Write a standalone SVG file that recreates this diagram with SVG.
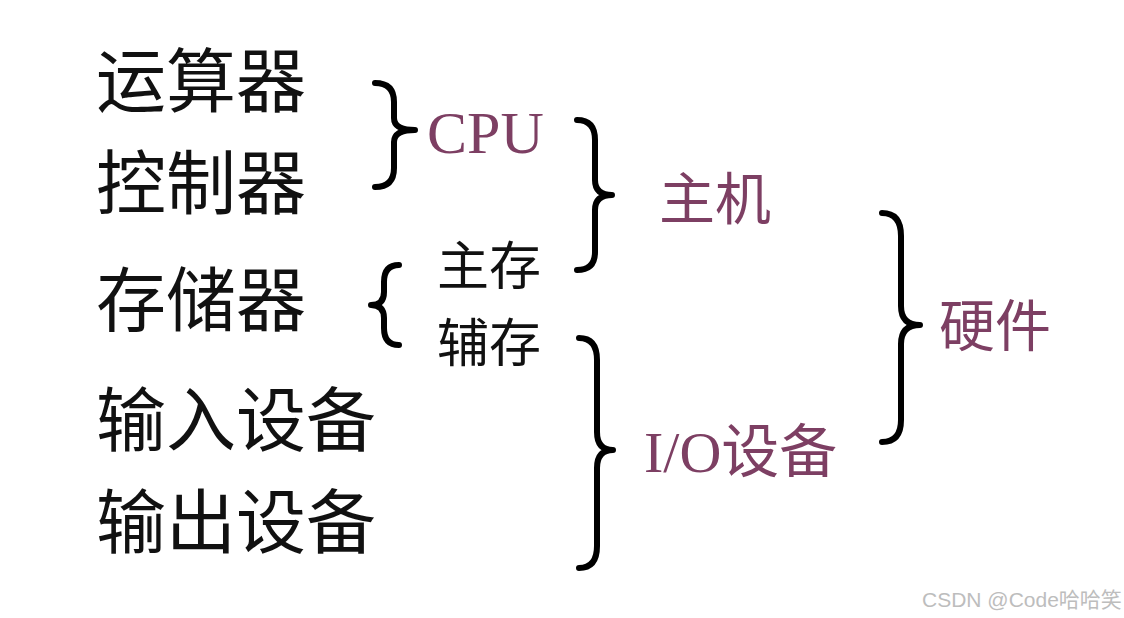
<svg xmlns="http://www.w3.org/2000/svg" width="1124" height="618" viewBox="0 0 1124 618">
<style>
.k{font-family:"Noto Sans CJK SC","Noto Sans",sans-serif;fill:#111}
.big{font-size:70px}
.mid{font-size:56px}
.sm{font-size:52px}
.m{fill:#7d3f63}
.lat{font-family:"Liberation Serif","Noto Sans CJK SC",serif;fill:#7d3f63}
.br{fill:none;stroke:#000;stroke-width:6;stroke-linecap:round;stroke-linejoin:round}
.wm{font-family:"Liberation Sans","Noto Sans CJK SC",sans-serif;font-size:21px;fill:#bdbdbd}
</style>
<rect width="1124" height="618" fill="#fff"/>
<g id="n-alu"><text class="k big" x="96" y="107">运算器</text></g>
<g id="n-ctrl"><text class="k big" x="96" y="209">控制器</text></g>
<g id="n-mem"><text class="k big" x="96" y="326">存储器</text></g>
<g id="n-in"><text class="k big" x="96" y="446">输入设备</text></g>
<g id="n-out"><text class="k big" x="96" y="548">输出设备</text></g>
<g id="n-cpu"><text class="lat" font-size="60" x="427" y="153">CPU</text></g>
<g id="n-main"><text class="k mid m" x="659" y="219">主机</text></g>
<g id="n-zc"><text class="k sm" x="437" y="285">主存</text></g>
<g id="n-fc"><text class="k sm" x="437" y="362">辅存</text></g>
<g id="n-io"><text class="lat" font-size="58" x="644" y="472">I/O<tspan class="k" style="fill:#7d3f63">设备</tspan></text></g>
<g id="n-hw"><text class="k mid m" x="939" y="346">硬件</text></g>
<g id="connectors">
<path class="br" d="M375 83 Q394 83 394 102 L394 118 Q394 130 415 130 Q394 130 394 142 L394 168 Q394 187 375 187"/>
<path class="br" d="M577 120 Q595 120 595 140 L595 180 Q595 195 612 195 Q595 195 595 210 L595 252 Q595 270 577 270"/>
<path class="br" d="M399 265 Q384 265 384 282 L384 292 Q384 305 371 305 Q384 305 384 318 L384 328 Q384 345 399 345"/>
<path class="br" d="M579 338 Q597 338 597 360 L597 432 Q597 450 613 450 Q597 450 597 468 L597 546 Q597 568 579 568"/>
<path class="br" d="M882 213 Q901 213 901 236 L901 306 Q901 325 920 325 Q901 325 901 344 L901 420 Q901 442 882 442"/>
</g>
<text class="wm" x="922" y="607">CSDN @Code哈哈笑</text>
</svg>
